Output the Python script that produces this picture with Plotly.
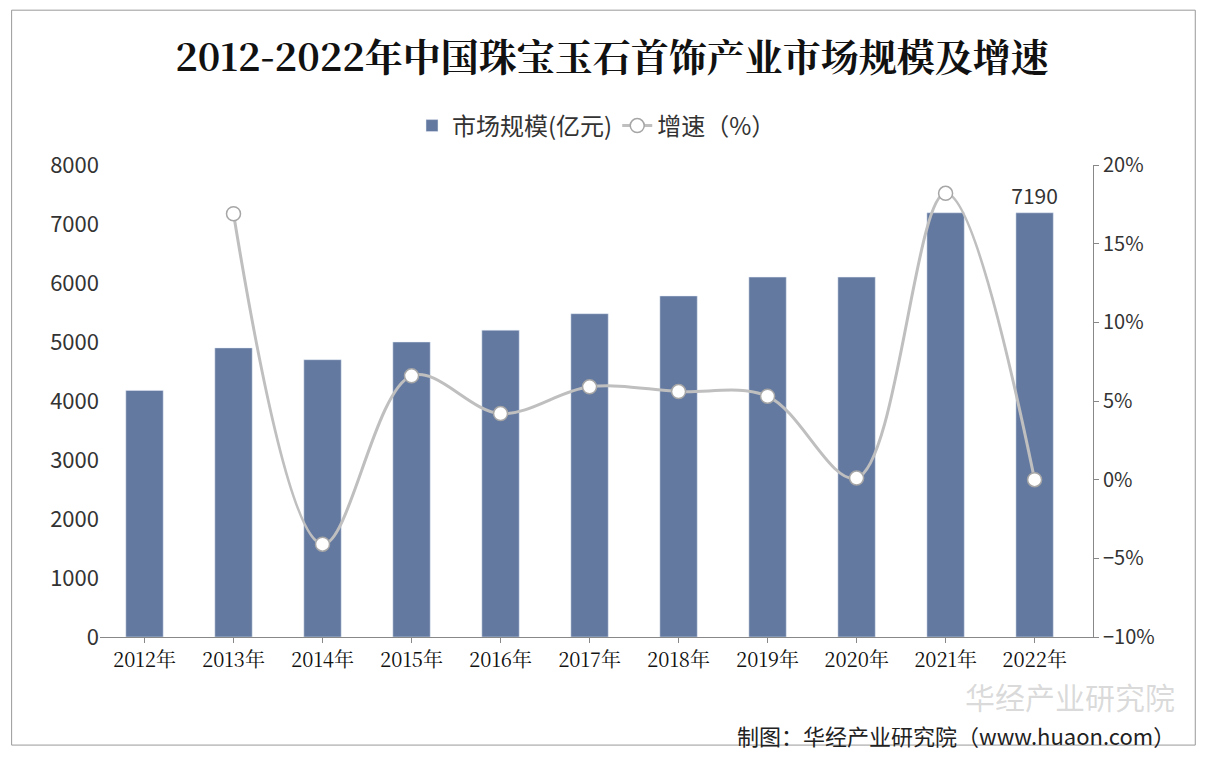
import plotly.graph_objects as go

years = ["2012年", "2013年", "2014年", "2015年", "2016年", "2017年", "2018年", "2019年", "2020年", "2021年", "2022年"]
market_size = [4180, 4900, 4700, 5000, 5200, 5480, 5780, 6100, 6100, 7190, 7190]
growth_years = years[1:]
growth = [16.9, -4.1, 6.6, 4.2, 5.9, 5.6, 5.3, 0.1, 18.2, 0.0]

fig = go.Figure()
fig.add_trace(go.Bar(
    x=years, y=market_size, name="市场规模(亿元)",
    marker=dict(color="#6479A0"), width=0.42,
    text=[""] * 10 + ["7190"], textposition="outside", constraintext="none",
    textfont=dict(size=21, color="#333"), cliponaxis=False,
))
fig.add_trace(go.Scatter(
    x=growth_years, y=growth, name="增速（%）", yaxis="y2",
    mode="lines+markers", line=dict(color="#BFBFBF", width=3, shape="spline"),
    marker=dict(size=14, color="white", line=dict(color="#A6A6A6", width=1.5)),
))

font = "Noto Sans CJK SC"
fig.update_layout(
    width=1208, height=758,
    paper_bgcolor="white", plot_bgcolor="white",
    margin=dict(l=92, r=123, t=157, b=129),
    title=dict(text="<b>2012-2022年中国珠宝玉石首饰产业市场规模及增速</b>", x=0.5, y=0.935,
               xanchor="center", yanchor="middle",
               font=dict(family="Noto Serif CJK SC, serif", size=38, color="#111")),
    legend=dict(orientation="h", x=0.5, xanchor="center", y=1.035, yanchor="bottom",
                font=dict(family=font, size=24, color="#333")),
    font=dict(family=font, size=20, color="#333"),
    xaxis=dict(showline=True, linecolor="#888", ticks="outside", tickcolor="#888",
               tickfont=dict(size=20, family="Noto Serif CJK SC, serif", color="#111")),
    yaxis=dict(range=[0, 8000], dtick=1000, showgrid=False, zeroline=False,
               tickfont=dict(size=22)),
    yaxis2=dict(range=[-10, 20], dtick=5, overlaying="y", side="right", showgrid=False,
                zeroline=False, showline=True, linecolor="#888", ticks="outside",
                tickcolor="#888", ticksuffix="%", tickfont=dict(size=20)),
    shapes=[dict(type="rect", xref="paper", yref="paper", x0=-0.089, x1=1.103, y0=-0.229, y1=1.328,
                 line=dict(color="#999", width=1))],
    annotations=[
        dict(text="制图：华经产业研究院（www.huaon.com）", xref="paper", yref="paper",
             x=1.085, y=-0.17, xanchor="right", yanchor="top", showarrow=False,
             font=dict(family=font, size=22, color="#222")),
        dict(text="华经产业研究院", xref="paper", yref="paper", x=1.085, y=-0.075,
             xanchor="right", yanchor="top", showarrow=False,
             font=dict(family=font, size=30, color="rgba(150,150,150,0.35)")),
    ],
)
fig.write_html("out.html")
